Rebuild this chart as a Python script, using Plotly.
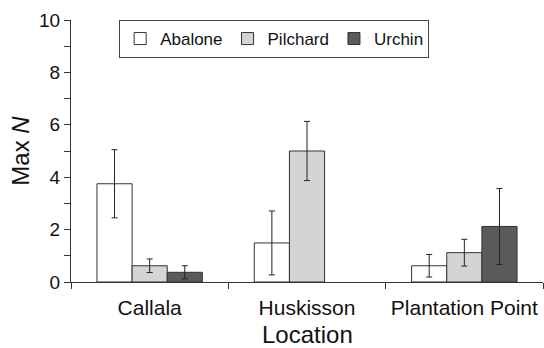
import plotly.graph_objects as go

locations = ["Callala", "Huskisson", "Plantation Point"]
series_names = ["Abalone", "Pilchard", "Urchin"]
abalone = [3.75, 1.49, 0.62]
abalone_err = [1.3, 1.22, 0.43]
pilchard = [0.62, 5.0, 1.12]
pilchard_err = [0.26, 1.13, 0.51]
urchin = [0.37, None, 2.12]
urchin_err = [0.25, None, 1.45]
x_title = "Location"

colors = ["#ffffff", "#d4d4d4", "#5b5b5b"]
values = [abalone, pilchard, urchin]
errors = [abalone_err, pilchard_err, urchin_err]

FONT = "Liberation Sans, Arial, Helvetica, sans-serif"

fig = go.Figure()
for name, vals, errs, col in zip(series_names, values, errors, colors):
    fig.add_trace(go.Bar(
        x=locations, y=vals, name=name,
        marker=dict(color=col, line=dict(color="#333333", width=1)),
        error_y=dict(type="data", array=errs, visible=True,
                     color="#222222", thickness=1, width=3),
    ))

fig.add_annotation(
    text=x_title, xref="paper", yref="paper", x=0.5, y=0,
    xanchor="center", yanchor="top", yshift=-37, showarrow=False,
    font=dict(family=FONT, size=24, color="#111111"),
)

fig.update_layout(
    width=544, height=348,
    margin=dict(l=71, r=1, t=20, b=66, autoexpand=False),
    paper_bgcolor="white", plot_bgcolor="white",
    barmode="group", bargap=0.33, bargroupgap=0,
    font=dict(family=FONT, size=18, color="#111111"),
    showlegend=True,
    legend=dict(orientation="h", x=0.102, y=1.0, xanchor="left", yanchor="top",
                bordercolor="#444444", borderwidth=1, bgcolor="white",
                font=dict(size=17), itemwidth=30, traceorder="normal"),
    xaxis=dict(
        automargin=False,
        showline=True, linecolor="#333333", linewidth=1,
        ticks="outside", ticklen=6, tickcolor="#333333", tickson="boundaries",
        tickfont=dict(size=21), ticklabelstandoff=7,
        showgrid=False, zeroline=False,
    ),
    yaxis=dict(
        automargin=True,
        range=[0, 10], dtick=2, showline=True, linecolor="#333333", linewidth=1,
        ticks="outside", ticklen=6, tickcolor="#333333",
        tickfont=dict(size=19),
        minor=dict(dtick=1, ticks="outside", ticklen=6, tickcolor="#333333"),
        title=dict(text="Max <i>N</i>", font=dict(size=24), standoff=2),
        showgrid=False, zeroline=False,
    ),
)

fig.write_html("out.html")
